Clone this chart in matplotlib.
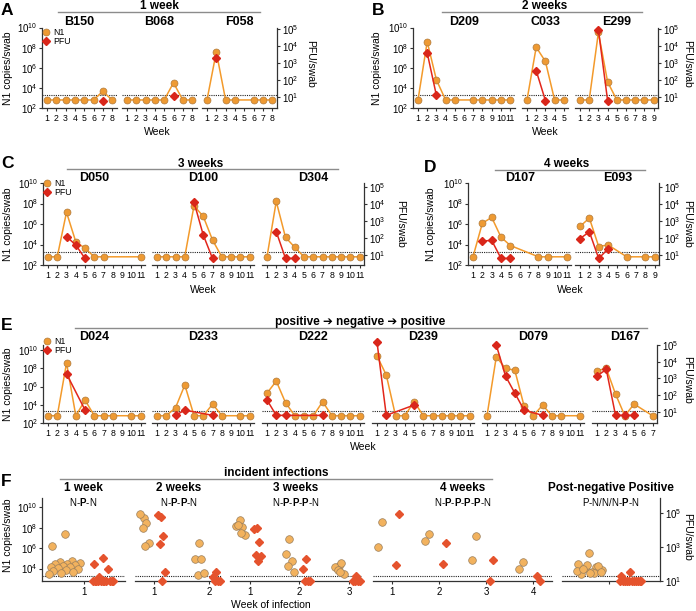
import numpy as np
import matplotlib.pyplot as plt
from matplotlib.lines import Line2D
from matplotlib.ticker import FixedLocator, LogFormatterMathtext, NullLocator

plt.rcParams["font.family"] = ["Liberation Sans", "DejaVu Sans"]
plt.rcParams["mathtext.fontset"] = "custom"
plt.rcParams["mathtext.rm"] = "Liberation Sans"
plt.rcParams["mathtext.bf"] = "Liberation Sans:bold"
plt.rcParams["axes.linewidth"] = 0.9
plt.rcParams["axes.edgecolor"] = "#333333"

nan = np.nan
ND = 6.3e2     # N1 below detection (plotted level)
PND = 6.3      # PFU below detection (plotted level)
F_PND = 10.0   # PFU below detection in panel F
LOD = 2e3      # dotted detection limit, N1 scale

# ---- A: 1 week -------------------------------------------------------------
B150_n1 = [ND, ND, ND, ND, ND, ND, 4.5e3, ND]
B150_pfu = [nan, nan, nan, nan, nan, nan, PND, nan]
B068_n1 = [ND, ND, ND, ND, ND, 3.2e4, ND, ND]
B068_pfu = [nan, nan, nan, nan, nan, 12, nan, nan]
F058_n1 = [ND, 3.7e7, ND, ND, nan, ND, ND, ND]
F058_pfu = [nan, 2000, nan, nan, nan, nan, nan, nan]

# ---- B: 2 weeks ------------------------------------------------------------
D209_n1 = [ND, 3.9e8, 6.3e4, ND, ND, nan, ND, ND, ND, ND, ND]
D209_pfu = [nan, 4000, 12.6, nan, nan, nan, nan, nan, nan, nan, nan]
C033_n1 = [ND, 1.1e8, 4.3e6, ND, ND]
C033_pfu = [nan, 360, PND, nan, nan]
E299_n1 = [ND, ND, 3.2e9, 4.0e4, ND, ND, ND, ND, ND]
E299_pfu = [nan, nan, 9.1e4, PND, nan, nan, nan, nan, nan]

# ---- C: 3 weeks ------------------------------------------------------------
D050_n1 = [ND, ND, 1.4e7, 1.9e4, 4.3e3, ND, ND, nan, nan, nan, ND]
D050_pfu = [nan, nan, 120, 39, PND, nan, nan, nan, nan, nan, nan]
D100_n1 = [ND, ND, ND, ND, 6.0e7, 5.5e6, 2.8e4, ND, ND, ND, ND]
D100_pfu = [nan, nan, nan, nan, 1.26e4, 150, PND, nan, nan, nan, nan]
D304_n1 = [ND, 1.6e8, 5.0e4, 5.4e3, ND, ND, ND, ND, ND, ND, ND]
D304_pfu = [nan, 234, PND, PND, nan, nan, nan, nan, nan, nan, nan]

# ---- D: 4 weeks ------------------------------------------------------------
D107_n1 = [ND, 1.2e6, 4.4e6, 5.1e4, 7.9e3, nan, nan, ND, ND, nan, ND]
D107_pfu = [nan, 66, 72, PND, PND, nan, nan, nan, nan, nan, nan]
E093_n1 = [5.8e5, 3.8e6, 6.3e3, 9.1e3, nan, ND, nan, ND, ND]
E093_pfu = [91, 229, PND, 23, nan, nan, nan, nan, nan]

# ---- E: positive -> negative -> positive -----------------------------------
D024_n1 = [ND, ND, 4.0e8, ND, 3.2e4, ND, ND, ND, nan, ND, ND]
D024_pfu = [nan, nan, 1900, nan, 13, nan, nan, nan, nan, nan, nan]
D233_n1 = [ND, ND, 4.8e3, 1.5e6, ND, ND, 1.2e4, ND, nan, ND, ND]
D233_pfu = [nan, nan, PND, 13, nan, nan, PND, nan, nan, nan, nan]
D222_n1 = [1.9e5, 4.0e6, 1.7e4, ND, ND, ND, 2.2e4, ND, ND, ND, ND]
D222_pfu = [52, PND, PND, nan, nan, nan, PND, nan, nan, nan, nan]
D239_n1 = [2.3e9, 1.9e7, ND, ND, 2.2e4, ND, ND, ND, ND, ND, ND]
D239_pfu = [1.5e5, PND, nan, nan, 26, nan, nan, nan, nan, nan, nan]
D079_n1 = [ND, 1.8e9, 1.0e8, 6.3e7, 7.4e3, ND, 9.5e3, ND, ND, nan, ND]
D079_pfu = [nan, 1.0e5, 1400, 135, 13, nan, PND, nan, nan, nan, nan]
D167_n1 = [5.6e7, 1.0e8, 1.5e5, ND, 1.2e4, nan, ND]
D167_pfu = [1400, 3500, PND, PND, PND, nan, nan]

# ---- F: week of infection --------------------------------------------------
F1_n1 = [[2.5e7, 1.6e6, 5.6e4, 4.0e4, 3.2e4, 2.8e4, 2.5e4, 2.0e4, 1.6e4, 1.4e4,
          1.3e4, 1.1e4, 1.0e4, 7.9e3, 6.3e3, 5.0e3, 4.0e3, 3.2e3]]
F1_pfu = [[240, 98, 50, 18, F_PND, F_PND, F_PND, F_PND, F_PND, F_PND, F_PND,
           F_PND, F_PND, F_PND, F_PND]]
F2_n1 = [[9.5e8, 2.0e9, 3.1e8, 1.0e8, 3.3e6, 1.6e6],
         [2.9e6, 9.5e4, 9.5e4, 2.2e3, 3.7e3]]
F2_pfu = [[5.6e4, 7.6e4, 4.2e3, 1.4e3, 35, F_PND],
          [35, 18, F_PND, F_PND, F_PND]]
F3_n1 = [[5.6e8, 1.3e8, 1.1e8, 2.0e8, 1.9e7, 2.8e7],
         [7.9e6, 2.5e5, 5.6e4, 1.8e4, 4.7e3],
         [1.7e4, 1.4e4, 3.2e4, 6.9e3, 3.2e3, 4.7e3]]
F3_pfu = [[1.3e4, 1.2e4, 2.0e3, 316, 280, 150],
          [200, 48, F_PND, F_PND, F_PND],
          [19.5, F_PND, F_PND, F_PND, F_PND]]
F4_n1 = [[3.3e8, 1.3e6], [2.4e7, 5.2e6], [1.6e7, 6.6e4], [3.9e4, 8.5e3]]
F4_pfu = [[8.7e4, 85], [1.7e3, 98], [166, F_PND], [F_PND, 19.5]]
F5_n1 = [[3.0e5, 2.7e4, 1.4e4, 1.2e4, 7.0e3, 4.7e3, 3.2e3, 1.7e4, 2.0e4, 6.0e3,
          4.0e3, 9.0e3, 5.0e3, 3.6e3]]
F5_pfu = [[35, 19.5, F_PND, F_PND, F_PND, F_PND, F_PND, F_PND, F_PND, F_PND,
           F_PND, F_PND, F_PND]]
F_titles = ["1 week", "2 weeks", "3 weeks", "4 weeks", "Post-negative Positive"]
F_subtitles = ["N-$\\mathbf{P}$-N", "N-$\\mathbf{P}$-$\\mathbf{P}$-N",
               "N-$\\mathbf{P}$-$\\mathbf{P}$-$\\mathbf{P}$-N",
               "N-$\\mathbf{P}$-$\\mathbf{P}$-$\\mathbf{P}$-$\\mathbf{P}$-N",
               "P-N/N/N-$\\mathbf{P}$-N"]

# colours
N1_LINE, N1_FACE, N1_EDGE = "#F39A2B", "#EE9A33", "#B07A3C"
PFU_LINE, PFU_FACE = "#E2261B", "#D9261A"
F_N1_FACE, F_N1_EDGE, F_PFU_FACE = "#F2B25E", "#9B7F5C", "#E5532D"
AX_C = "#333333"

W, H = 696, 611
fig = plt.figure(figsize=(W / 100, H / 100), dpi=100)


def add_px_axes(x0, x1, y_top, y_bot):
    return fig.add_axes([x0 / W, 1 - y_bot / H, (x1 - x0) / W, (y_bot - y_top) / H])


def ftext(x, y, s, **kw):
    fig.text(x / W, 1 - y / H, s, **kw)


def hline(x0, x1, y):
    fig.add_artist(Line2D([x0 / W, x1 / W], [1 - y / H, 1 - y / H],
                          transform=fig.transFigure, color="#8c8c8c", lw=1.0))


def log_axis(axis, ticks):
    axis.set_major_locator(FixedLocator(ticks))
    axis.set_major_formatter(LogFormatterMathtext())
    axis.set_minor_locator(NullLocator())


def set_sides(ax, tw, first, last, n1_ticks, pfu_ticks):
    for s in ("top", "right"):
        ax.spines[s].set_visible(False)
    for s in ("top", "left", "bottom"):
        tw.spines[s].set_visible(False)
    log_axis(ax.yaxis, n1_ticks)
    log_axis(tw.yaxis, pfu_ticks)
    ax.tick_params(axis="x", length=2.5, width=0.8, color=AX_C, pad=1.5, labelsize=6.3)
    ax.tick_params(axis="y", length=2.5, width=0.8, color=AX_C, pad=1, labelsize=7)
    tw.tick_params(axis="y", length=2.5, width=0.8, color=AX_C, pad=1, labelsize=7)
    if not first:
        ax.spines["left"].set_visible(False)
        ax.tick_params(axis="y", left=False, labelleft=False)
    if not last:
        tw.spines["right"].set_visible(False)
        tw.tick_params(axis="y", right=False, labelright=False)


def timecourse_row(subjects, firsts, step, top, bot, n1_top, pfu_lim, label_y):
    axes = []
    for k, (name, n1, pfu) in enumerate(subjects):
        n1 = np.asarray(n1, float)
        pfu = np.asarray(pfu, float)
        n = len(n1)
        weeks = np.arange(1, n + 1)
        x0 = firsts[k] - step / 2
        ax = add_px_axes(x0, x0 + n * step, top, bot)
        tw = ax.twinx()
        ax.set_yscale("log")
        tw.set_yscale("log")
        ax.axhline(LOD, ls=(0, (1, 1)), color="#222222", lw=0.8, zorder=1)
        m = ~np.isnan(n1)
        ax.plot(weeks[m], n1[m], "-o", color=N1_LINE, mfc=N1_FACE, mec=N1_EDGE,
                mew=0.5, ms=5, lw=1.1, clip_on=False, zorder=3)
        m = ~np.isnan(pfu)
        tw.plot(weeks[m], pfu[m], "-D", color=PFU_LINE, mfc=PFU_FACE, mec=PFU_FACE,
                ms=3.6, lw=1.1, clip_on=False, zorder=3)
        ax.set_ylim(1e2, n1_top)
        tw.set_ylim(*pfu_lim)
        ax.set_xlim(0.5, n + 0.5)
        ax.set_xticks(weeks)
        ax.set_xticklabels([str(w) for w in weeks])
        set_sides(ax, tw, k == 0, k == len(subjects) - 1,
                  [1e2, 1e4, 1e6, 1e8, 1e10], [1e1, 1e2, 1e3, 1e4, 1e5])
        ftext(firsts[k] + (n - 1) * step / 2, label_y, name, ha="center", va="center",
              fontsize=9, fontweight="bold")
        axes.append(ax)
    return axes


def add_legend(ax, x, y):
    handles = [Line2D([], [], ls="none", marker="o", mfc=N1_FACE, mec=N1_EDGE, mew=0.5, ms=5),
               Line2D([], [], ls="none", marker="D", mfc=PFU_FACE, mec=PFU_FACE, ms=3.6)]
    ax.legend(handles, ["N1", "PFU"], loc="upper left", bbox_to_anchor=(x / W, 1 - y / H),
              bbox_transform=fig.transFigure, frameon=False, fontsize=6.3,
              handlelength=1.0, handletextpad=0.3, labelspacing=0.05,
              borderpad=0, borderaxespad=0)


def header(text, xc, ty, x0, x1, ly):
    ftext(xc, ty, text, ha="center", va="center", fontsize=8.5, fontweight="bold")
    hline(x0, x1, ly)


AB_PFU = (10 ** 0.36, 10 ** 5.09)
CD_PFU = (10 ** 0.415, 10 ** 5.22)

# A
axA = timecourse_row([("B150", B150_n1, B150_pfu), ("B068", B068_n1, B068_pfu),
                      ("F058", F058_n1, F058_pfu)],
                     [47, 127, 207], 9.3, 27.5, 108, 1e10, AB_PFU, 21.7)
add_legend(axA[0], 42, 27.6)
# B
timecourse_row([("D209", D209_n1, D209_pfu), ("C033", C033_n1, C033_pfu),
                ("E299", E299_n1, E299_pfu)],
               [418, 527, 580], 9.2, 27.5, 108, 1e10, AB_PFU, 21.7)
# C
axC = timecourse_row([("D050", D050_n1, D050_pfu), ("D100", D100_n1, D100_pfu),
                      ("D304", D304_n1, D304_pfu)],
                     [48, 157, 267], 9.25, 183, 265, 1e10, CD_PFU, 178.3)
add_legend(axC[0], 43, 178.6)
# D
timecourse_row([("D107", D107_n1, D107_pfu), ("E093", E093_n1, E093_pfu)],
               [473, 580], 9.35, 183, 265, 1e10, CD_PFU, 178.3)
# E
axE = timecourse_row([("D024", D024_n1, D024_pfu), ("D233", D233_n1, D233_pfu),
                      ("D222", D222_n1, D222_pfu), ("D239", D239_n1, D239_pfu),
                      ("D079", D079_n1, D079_pfu), ("D167", D167_n1, D167_pfu)],
                     [48, 157, 267, 377, 487, 597], 9.27, 345, 423, 10 ** 10.57,
                     (10 ** 0.343, 1e5), 337.3)
add_legend(axE[0], 43, 337)

# F
F_groups = [(F1_n1, F1_pfu), (F2_n1, F2_pfu), (F3_n1, F3_pfu), (F4_n1, F4_pfu),
            (F5_n1, F5_pfu)]
F_left = [42, 135, 230, 373, 562]
F_right = [125, 222, 362, 552, 660]
F_xlim = [(0.5, 1.5), (0.655, 2.236), (0.6, 3.26), (0.6, 4.4), (0.52, 1.52)]
F_offsets = [(-19, 16, 19, 11), (-10, 5, 7, 4), (-10, 5, 7, 4), (-10, 5, 7, 4),
             (-20, 14, 21, 12)]
F_TOP, F_BOT = 498, 581


def jitter(n, half):
    # deterministic spread of points within a group
    if n == 1:
        return np.zeros(1)
    return half * ((((np.arange(n) + 0.81) * 0.618034) % 1.0) * 2 - 1)


for k, (n1_weeks, pfu_weeks) in enumerate(F_groups):
    ax = add_px_axes(F_left[k], F_right[k], F_TOP, F_BOT)
    tw = ax.twinx()
    ax.set_yscale("log")
    tw.set_yscale("log")
    ax.axhline(LOD, ls=(0, (1, 1)), color="#222222", lw=0.8, zorder=1)
    unit = (F_right[k] - F_left[k]) / (F_xlim[k][1] - F_xlim[k][0])
    oc, oh, rc, rh = F_offsets[k]
    for w, (nv, pv) in enumerate(zip(n1_weeks, pfu_weeks), start=1):
        xs = w + (oc + jitter(len(nv), oh)) / unit
        ax.plot(xs, nv, ls="none", marker="o", mfc=F_N1_FACE, mec=F_N1_EDGE, mew=0.5,
                ms=5.5, clip_on=False, zorder=3)
        xs = w + (rc + jitter(len(pv), rh)) / unit
        tw.plot(xs, pv, ls="none", marker="D", mfc=F_PFU_FACE, mec=F_PFU_FACE,
                ms=4.2, clip_on=False, zorder=3)
    ax.set_ylim(10 ** 2.78, 10 ** 10.9)
    tw.set_ylim(10, 10 ** 5.88)
    ax.set_xlim(*F_xlim[k])
    ticks = list(range(1, len(n1_weeks) + 1))
    ax.set_xticks(ticks)
    ax.set_xticklabels([str(t) for t in ticks] if k < 4 else [""])
    set_sides(ax, tw, k == 0, k == 4, [1e4, 1e6, 1e8, 1e10], [1e1, 1e3, 1e5])
    ax.tick_params(axis="x", labelsize=7, pad=2)
    xc = (F_left[k] + F_right[k]) / 2
    ftext(xc, 488.3, F_titles[k], ha="center", va="center", fontsize=8.5, fontweight="bold")
    ftext(xc, 501.5, F_subtitles[k], ha="center", va="center", fontsize=7)

# headers, panel letters and axis labels
header("1 week", 159, 6, 58, 260, 12.3)
header("2 weeks", 545, 6, 442, 642, 12.3)
header("3 weeks", 201, 163.5, 67, 338, 169)
header("4 weeks", 567, 164, 495, 645, 170)
header("positive \u2794 negative \u2794 positive", 360, 321.7, 75, 647, 328.3)
header("incident infections", 276, 472.7, 60, 492, 479.3)

for letter, x, y in [("A", 1, 10.5), ("B", 372, 10.5), ("C", 1, 164), ("D", 424, 167.5),
                     ("E", 1, 325), ("F", 1, 481)]:
    ftext(x, y, letter, ha="left", va="center", fontsize=12.5, fontweight="bold")

for x, y in [(8, 68), (377, 68), (8, 224), (431, 224), (8, 384), (8, 535)]:
    ftext(x, y, "N1 copies/swab", rotation=90, ha="center", va="center", fontsize=7.5)
for x, y in [(310, 64), (687, 64), (400, 224), (687, 224), (687, 380), (687, 537)]:
    ftext(x, y, "PFU/swab", rotation=-90, ha="center", va="center", fontsize=7.5)
for x, y in [(157, 132), (545, 132), (203, 290), (570, 290), (363, 447)]:
    ftext(x, y, "Week", ha="center", va="center", fontsize=7.5)
ftext(271, 605, "Week of infection", ha="center", va="center", fontsize=7.5)

fig.savefig("out.png", dpi=100)
